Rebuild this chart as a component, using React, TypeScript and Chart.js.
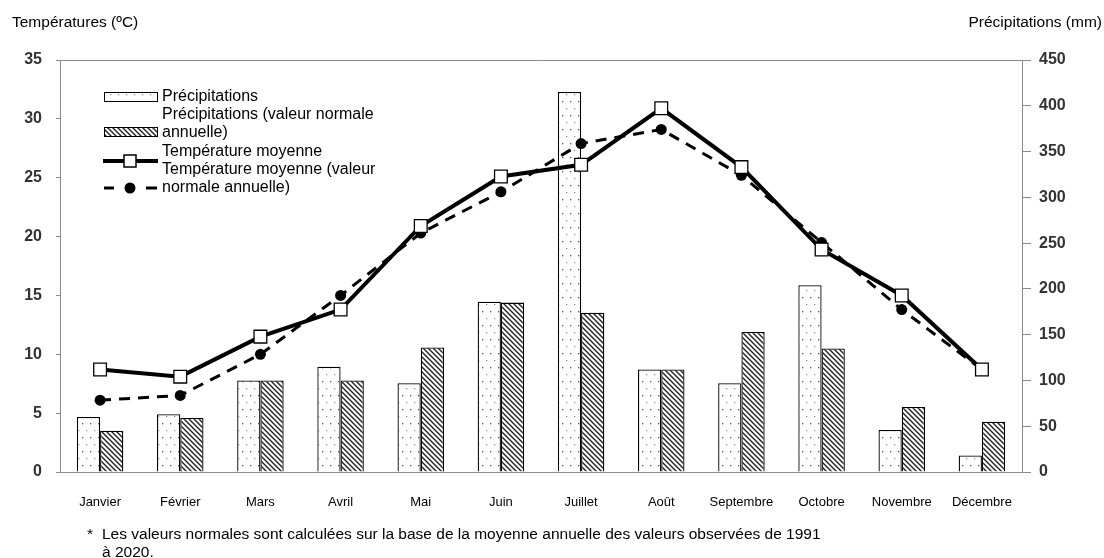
import React, { useEffect, useRef } from 'react';
import { Chart, registerables } from 'chart.js';

Chart.register(...registerables);

const months = ['Janvier', 'Février', 'Mars', 'Avril', 'Mai', 'Juin', 'Juillet', 'Août', 'Septembre', 'Octobre', 'Novembre', 'Décembre'];
const precipitation = [60, 63, 100, 115, 97, 186, 415, 112, 97, 204, 46, 18];
const precipitationNormal = [45, 59, 100, 100, 136, 185, 174, 112, 153, 135, 71, 55];
const temperature = [8.7, 8.1, 11.5, 13.8, 20.9, 25.1, 26.1, 30.9, 25.9, 18.9, 15.0, 8.7];
const temperatureNormal = [6.1, 6.5, 10.0, 15.0, 20.3, 23.8, 27.9, 29.1, 25.2, 19.5, 13.8, 8.7];
const tempMax = 35;
const tempStep = 5;
const precipMax = 450;
const precipStep = 50;

const seriesNames = [
  ['Précipitations'],
  ['Précipitations (valeur normale', 'annuelle)'],
  ['Température moyenne'],
  ['Température moyenne (valeur', 'normale annuelle)'],
];
const leftTitle = 'Températures (ºC)';
const rightTitle = 'Précipitations (mm)';
const footnote1 = 'Les valeurs normales sont calculées sur la base de la moyenne annuelle des valeurs observées de 1991';
const footnote2 = 'à 2020.';

function makeDotPattern(): CanvasPattern | string {
  const c = document.createElement('canvas');
  c.width = 8;
  c.height = 14;
  const g = c.getContext('2d');
  if (!g) return '#fff';
  g.fillStyle = '#fff';
  g.fillRect(0, 0, 8, 14);
  g.fillStyle = '#555';
  g.fillRect(2, 3, 1.3, 1.3);
  g.fillStyle = '#999';
  g.fillRect(6, 10, 1.3, 1.3);
  return g.createPattern(c, 'repeat') || '#fff';
}

function makeHatchPattern(): CanvasPattern | string {
  const s = 5;
  const c = document.createElement('canvas');
  c.width = s;
  c.height = s;
  const g = c.getContext('2d');
  if (!g) return '#888';
  g.fillStyle = '#fff';
  g.fillRect(0, 0, s, s);
  g.strokeStyle = '#222';
  g.lineWidth = 1.4;
  g.beginPath();
  g.moveTo(-1, -1);
  g.lineTo(s + 1, s + 1);
  g.moveTo(-1, s - 1);
  g.lineTo(1, s + 1);
  g.moveTo(s - 1, -1);
  g.lineTo(s + 1, 1);
  g.stroke();
  return g.createPattern(c, 'repeat') || '#888';
}

export default function App() {
  const ref = useRef<HTMLCanvasElement | null>(null);

  useEffect(() => {
    document.body.style.margin = '0';
    const canvas = ref.current;
    if (!canvas) return;
    const dots = makeDotPattern();
    const hatch = makeHatchPattern();
    const axisGray = '#8a8a8a';
    const labelFont = "'Liberation Sans', Arial, sans-serif";

    const legendPlugin = {
      id: 'customLegend',
      afterDatasetsDraw(chart: any) {
        const ctx = chart.ctx as CanvasRenderingContext2D;
        ctx.save();
        ctx.fillStyle = dots as any;
        ctx.fillRect(104, 92, 53, 9);
        ctx.strokeStyle = '#000';
        ctx.lineWidth = 1;
        ctx.strokeRect(104.5, 92.5, 53, 9);
        ctx.fillStyle = hatch as any;
        ctx.fillRect(104, 127, 53, 9);
        ctx.strokeRect(104.5, 127.5, 53, 9);
        ctx.beginPath();
        ctx.lineWidth = 4;
        ctx.moveTo(103, 161);
        ctx.lineTo(158, 161);
        ctx.stroke();
        ctx.fillStyle = '#fff';
        ctx.lineWidth = 1.5;
        ctx.fillRect(124, 155, 12, 12);
        ctx.strokeRect(124, 155, 12, 12);
        ctx.beginPath();
        ctx.lineWidth = 3;
        ctx.moveTo(104, 188);
        ctx.lineTo(114, 188);
        ctx.moveTo(146, 188);
        ctx.lineTo(157, 188);
        ctx.stroke();
        ctx.beginPath();
        ctx.fillStyle = '#000';
        ctx.arc(130, 188, 5.5, 0, Math.PI * 2);
        ctx.fill();
        ctx.fillStyle = '#000';
        ctx.font = `16px ${labelFont}`;
        ctx.textBaseline = 'middle';
        ctx.textAlign = 'left';
        const ys = [97, 115, 133, 152, 170, 188];
        let k = 0;
        seriesNames.forEach((lines) => {
          lines.forEach((t) => {
            ctx.fillText(t, 162, ys[k]);
            k++;
          });
        });
        ctx.restore();
      },
    };

    const chart = new Chart(canvas, {
      type: 'bar',
      data: {
        labels: months,
        datasets: [
          {
            type: 'bar',
            label: seriesNames[0].join(' '),
            data: precipitation,
            yAxisID: 'yR',
            backgroundColor: dots as any,
            borderColor: '#000',
            borderWidth: 1.3,
            categoryPercentage: 0.58,
            barPercentage: 1,
            order: 3,
          },
          {
            type: 'bar',
            label: seriesNames[1].join(' '),
            data: precipitationNormal,
            yAxisID: 'yR',
            backgroundColor: hatch as any,
            borderColor: '#000',
            borderWidth: 1.3,
            categoryPercentage: 0.58,
            barPercentage: 1,
            order: 3,
          },
          {
            type: 'line',
            label: seriesNames[2].join(' '),
            data: temperature,
            yAxisID: 'yL',
            borderColor: '#000',
            borderWidth: 4,
            tension: 0,
            pointStyle: 'rect',
            pointRadius: 9,
            pointBackgroundColor: '#fff',
            pointBorderColor: '#000',
            pointBorderWidth: 1.3,
            order: 0,
          },
          {
            type: 'line',
            label: seriesNames[3].join(' '),
            data: temperatureNormal,
            yAxisID: 'yL',
            borderColor: '#000',
            borderWidth: 3,
            borderDash: [11, 8],
            tension: 0,
            pointStyle: 'circle',
            pointRadius: 5.5,
            pointBackgroundColor: '#000',
            pointBorderColor: '#000',
            pointBorderWidth: 0,
            order: 1,
          },
        ],
      },
      options: {
        animation: false,
        responsive: false,
        maintainAspectRatio: false,
        layout: { padding: { top: 60, left: 0, right: 0, bottom: 0 } },
        plugins: { legend: { display: false }, tooltip: { enabled: false } },
        scales: {
          x: {
            grid: { display: false, drawTicks: false },
            border: { display: true, color: axisGray, width: 1 },
            ticks: { color: '#000', font: { family: labelFont, size: 13 }, padding: 23, maxRotation: 0, autoSkip: false },
            afterFit: (s: any) => { s.height = 86; },
          },
          yL: {
            type: 'linear',
            position: 'left',
            min: 0,
            max: tempMax,
            ticks: { stepSize: tempStep, color: '#333', font: { family: labelFont, size: 16, weight: 'bold' }, padding: 14 },
            grid: {
              color: (c: any) => (c.tick && c.tick.value === tempMax ? axisGray : 'rgba(0,0,0,0)'),
              tickColor: axisGray,
              tickLength: 4,
              drawOnChartArea: true,
            },
            border: { display: true, color: axisGray, width: 1 },
            afterFit: (s: any) => { s.width = 60; },
          },
          yR: {
            type: 'linear',
            position: 'right',
            min: 0,
            max: precipMax,
            ticks: { stepSize: precipStep, color: '#333', font: { family: labelFont, size: 16, weight: 'bold' }, padding: 8 },
            grid: { color: 'rgba(0,0,0,0)', tickColor: axisGray, tickLength: 9, drawOnChartArea: false },
            border: { display: true, color: axisGray, width: 1 },
            afterFit: (s: any) => { s.width = 82; },
          },
        },
      },
      plugins: [legendPlugin],
    } as any);
    return () => chart.destroy();
  }, []);

  const textStyle: React.CSSProperties = {
    position: 'absolute',
    fontFamily: "'Liberation Sans', Arial, sans-serif",
    fontSize: 15.5,
    color: '#000',
    whiteSpace: 'nowrap',
    lineHeight: '18px',
  };

  return (
    <div style={{ position: 'relative', width: 1104, height: 558, background: '#fff', overflow: 'hidden' }}>
      <canvas ref={ref} width={1104} height={558} style={{ position: 'absolute', left: 0, top: 0, width: 1104, height: 558 }} />
      <div style={{ ...textStyle, left: 12, top: 13 }}>{leftTitle}</div>
      <div style={{ ...textStyle, right: 2, top: 13 }}>{rightTitle}</div>
      <div style={{ ...textStyle, left: 87, top: 525 }}>*</div>
      <div style={{ ...textStyle, left: 102, top: 525 }}>{footnote1}</div>
      <div style={{ ...textStyle, left: 102, top: 543 }}>{footnote2}</div>
    </div>
  );
}
